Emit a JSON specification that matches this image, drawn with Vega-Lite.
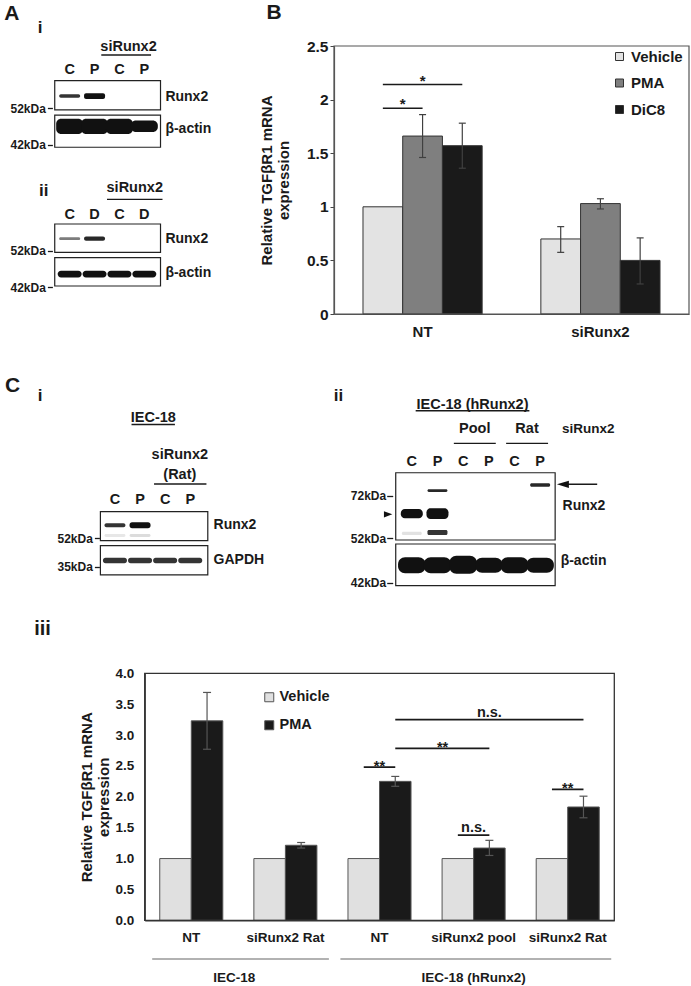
{
"$schema": "https://vega.github.io/schema/vega-lite/v6.json",
"width": 691,
"height": 986,
"autosize": "none",
"padding": 0,
"background": "white",
"config": {
 "view": {"stroke": null},
 "font": "Liberation Sans",
 "axis": {"grid": false, "labelFont": "Liberation Sans", "labelFontWeight": "bold", "labelColor": "#1a1a1a", "titleFont": "Liberation Sans", "titleFontWeight": "bold", "titleColor": "#1a1a1a", "domainColor": "#444444", "tickColor": "#444444"},
 "legend": {"labelFont": "Liberation Sans", "labelFontWeight": "bold", "labelColor": "#1a1a1a"},
 "text": {"font": "Liberation Sans", "fontWeight": "bold", "color": "#1a1a1a"}
},
"resolve": {"scale": {"x": "independent", "y": "independent", "xOffset": "independent", "color": "independent", "opacity": "independent"}, "axis": {"x": "independent", "y": "independent"}, "legend": {"color": "independent"}},
"layer": [
 {
  "layer": [
   {"data": {"values": [{"strip": "Runx2", "lane": 0.4, "lane2": 4.65, "kda": 61.1, "kda2": 51.5}, {"strip": "β-actin", "lane": 0.4, "lane2": 4.65, "kda": 50.0, "kda2": 41.45}]},
    "mark": {"type": "rect", "fill": "white", "stroke": "#222222", "strokeWidth": 1.2},
    "encoding": {
     "x": {"field": "lane", "type": "quantitative", "scale": {"domain": [-2, 7], "range": [-10, 224], "nice": false, "zero": false}, "axis": null},
     "x2": {"field": "lane2"},
     "y": {"field": "kda", "type": "quantitative", "scale": {"type": "log", "domain": [40, 100], "range": [153.37, -4.05], "nice": false}, "axis": {"orient": "left", "offset": -52.4, "values": [52, 42], "labelExpr": "datum.value + 'kDa'", "domain": false, "tickSize": 5, "tickWidth": 1.3, "tickColor": "#1a1a1a", "labelPadding": 2, "labelFontSize": 12, "title": null}},
     "y2": {"field": "kda2"}}},
   {"data": {"values": [{"lane": 1, "kda": 56.4, "kda2": 55.3, "signal": 0.85}, {"lane": 2, "kda": 56.74, "kda2": 54.9, "signal": 1}]},
    "mark": {"type": "bar", "width": 21, "color": "#111111", "cornerRadius": 2},
    "encoding": {"x": {"field": "lane", "type": "quantitative", "axis": null}, "y": {"field": "kda", "type": "quantitative"}, "y2": {"field": "kda2"}, "opacity": {"field": "signal", "type": "quantitative", "scale": {"domain": [0, 1], "range": [0, 1]}, "legend": null}}},
   {"data": {"values": [{"lane": 1, "kda": 48.9, "kda2": 44.8, "signal": 1}, {"lane": 2, "kda": 48.9, "kda2": 44.8, "signal": 1}, {"lane": 3, "kda": 48.9, "kda2": 44.8, "signal": 1}, {"lane": 4, "kda": 48.43, "kda2": 45.3, "signal": 1}]},
    "mark": {"type": "bar", "width": 27, "color": "#111111", "cornerRadius": 5},
    "encoding": {"x": {"field": "lane", "type": "quantitative", "axis": null}, "y": {"field": "kda", "type": "quantitative"}, "y2": {"field": "kda2"}, "opacity": {"field": "signal", "type": "quantitative", "legend": null}}},
   {"data": {"values": [{"lane": 1, "lab": "C"}, {"lane": 2, "lab": "P"}, {"lane": 3, "lab": "C"}, {"lane": 4, "lab": "P"}]},
    "mark": {"type": "text", "fontSize": 14.5, "baseline": "middle"},
    "encoding": {"x": {"field": "lane", "type": "quantitative", "axis": null}, "y": {"datum": 64.8, "type": "quantitative"}, "text": {"field": "lab"}}},
   {"data": {"values": [{"lane": 3.365, "lab": "siRunx2"}]},
    "mark": {"type": "text", "fontSize": 14.5, "baseline": "middle"},
    "encoding": {"x": {"field": "lane", "type": "quantitative", "axis": null}, "y": {"datum": 74.3, "type": "quantitative"}, "text": {"field": "lab"}}},
   {"data": {"values": [{"lane": 2.27, "lane2": 4.27}]},
    "mark": {"type": "rule", "color": "#1a1a1a", "strokeWidth": 1.4},
    "encoding": {"x": {"field": "lane", "type": "quantitative", "axis": null}, "x2": {"field": "lane2"}, "y": {"datum": 70.9, "type": "quantitative"}}},
   {"data": {"values": [{"lab": "Runx2", "kda": 55.6}, {"lab": "β-actin", "kda": 46.1}]},
    "mark": {"type": "text", "fontSize": 14, "align": "left", "baseline": "middle"},
    "encoding": {"x": {"datum": 4.846, "type": "quantitative", "axis": null}, "y": {"field": "kda", "type": "quantitative"}, "text": {"field": "lab"}}},
   {"data": {"values": [{"lab": "A"}]},
    "mark": {"type": "text", "fontSize": 21, "baseline": "middle"},
    "encoding": {"x": {"datum": -1.327, "type": "quantitative", "axis": null}, "y": {"datum": 90.2, "type": "quantitative"}, "text": {"field": "lab"}}},
   {"data": {"values": [{"lab": "i"}]},
    "mark": {"type": "text", "fontSize": 17, "baseline": "middle"},
    "encoding": {"x": {"datum": -0.19, "type": "quantitative", "axis": null}, "y": {"datum": 83.2, "type": "quantitative"}, "text": {"field": "lab"}}}
  ]
 },
 {
  "layer": [
   {"data": {"values": [{"strip": "Runx2", "lane": 0.4, "lane2": 4.65, "kda": 60.75, "kda2": 51.52}, {"strip": "β-actin", "lane": 0.4, "lane2": 4.65, "kda": 49.92, "kda2": 42.34}]},
    "mark": {"type": "rect", "fill": "white", "stroke": "#222222", "strokeWidth": 1.2},
    "encoding": {
     "x": {"field": "lane", "type": "quantitative", "scale": {"domain": [-2, 7], "range": [-10, 224], "nice": false, "zero": false}, "axis": null},
     "x2": {"field": "lane2"},
     "y": {"field": "kda", "type": "quantitative", "scale": {"type": "log", "domain": [40, 100], "range": [295.77, 138.35], "nice": false}, "axis": {"orient": "left", "offset": -52.4, "values": [52, 42], "labelExpr": "datum.value + 'kDa'", "domain": false, "tickSize": 5, "tickWidth": 1.3, "tickColor": "#1a1a1a", "labelPadding": 2, "labelFontSize": 12, "title": null}},
     "y2": {"field": "kda2"}}},
   {"data": {"values": [{"lane": 1, "kda": 56.2, "kda2": 55.3, "signal": 0.55}, {"lane": 2, "kda": 56.5, "kda2": 55.1, "signal": 0.9}]},
    "mark": {"type": "bar", "width": 21, "color": "#111111", "cornerRadius": 2},
    "encoding": {"x": {"field": "lane", "type": "quantitative", "axis": null}, "y": {"field": "kda", "type": "quantitative"}, "y2": {"field": "kda2"}, "opacity": {"field": "signal", "type": "quantitative", "scale": {"domain": [0, 1], "range": [0, 1]}, "legend": null}}},
   {"data": {"values": [{"lane": 1, "kda": 46.3, "kda2": 44.5, "signal": 1}, {"lane": 2, "kda": 46.3, "kda2": 44.5, "signal": 1}, {"lane": 3, "kda": 46.3, "kda2": 44.5, "signal": 1}, {"lane": 4, "kda": 46.3, "kda2": 44.5, "signal": 1}]},
    "mark": {"type": "bar", "width": 24, "color": "#111111", "cornerRadius": 3.5},
    "encoding": {"x": {"field": "lane", "type": "quantitative", "axis": null}, "y": {"field": "kda", "type": "quantitative"}, "y2": {"field": "kda2"}, "opacity": {"field": "signal", "type": "quantitative", "legend": null}}},
   {"data": {"values": [{"lane": 1, "lab": "C"}, {"lane": 2, "lab": "D"}, {"lane": 3, "lab": "C"}, {"lane": 4, "lab": "D"}]},
    "mark": {"type": "text", "fontSize": 14.5, "baseline": "middle"},
    "encoding": {"x": {"field": "lane", "type": "quantitative", "axis": null}, "y": {"datum": 64.0, "type": "quantitative"}, "text": {"field": "lab"}}},
   {"data": {"values": [{"lane": 3.615, "lab": "siRunx2"}]},
    "mark": {"type": "text", "fontSize": 14.5, "baseline": "middle"},
    "encoding": {"x": {"field": "lane", "type": "quantitative", "axis": null}, "y": {"datum": 74.9, "type": "quantitative"}, "text": {"field": "lab"}}},
   {"data": {"values": [{"lane": 2.5, "lane2": 4.73}]},
    "mark": {"type": "rule", "color": "#1a1a1a", "strokeWidth": 1.4},
    "encoding": {"x": {"field": "lane", "type": "quantitative", "axis": null}, "x2": {"field": "lane2"}, "y": {"datum": 70.1, "type": "quantitative"}}},
   {"data": {"values": [{"lab": "Runx2", "kda": 55.6}, {"lab": "β-actin", "kda": 45.6}]},
    "mark": {"type": "text", "fontSize": 14, "align": "left", "baseline": "middle"},
    "encoding": {"x": {"datum": 4.846, "type": "quantitative", "axis": null}, "y": {"field": "kda", "type": "quantitative"}, "text": {"field": "lab"}}},
   {"data": {"values": [{"lab": "ii"}]},
    "mark": {"type": "text", "fontSize": 17, "baseline": "middle"},
    "encoding": {"x": {"datum": -0.04, "type": "quantitative", "axis": null}, "y": {"datum": 73.8, "type": "quantitative"}, "text": {"field": "lab"}}}
  ]
 },
 {
  "layer": [
   {"data": {"values": [{"strip": "Runx2", "lane": 0.42, "lane2": 4.7, "kda": 75.4, "kda2": 50.3}, {"strip": "GAPDH", "lane": 0.42, "lane2": 4.7, "kda": 46.9, "kda2": 31.2}]},
    "mark": {"type": "rect", "fill": "white", "stroke": "#222222", "strokeWidth": 1.2},
    "encoding": {
     "x": {"field": "lane", "type": "quantitative", "scale": {"domain": [-4, 7], "range": [-15.5, 270.5], "nice": false, "zero": false}, "axis": null},
     "x2": {"field": "lane2"},
     "y": {"field": "kda", "type": "quantitative", "scale": {"type": "log", "domain": [25, 500], "range": [590.81, 376.02], "nice": false}, "axis": {"orient": "left", "offset": -99.4, "values": [52, 35], "labelExpr": "datum.value + 'kDa'", "domain": false, "tickSize": 5, "tickWidth": 1.3, "tickColor": "#1a1a1a", "labelPadding": 2, "labelFontSize": 12, "title": null}},
     "y2": {"field": "kda2"}}},
   {"data": {"values": [{"lane": 1, "kda": 64.1, "kda2": 60.6, "signal": 0.85}, {"lane": 2, "kda": 65.0, "kda2": 59.8, "signal": 1}, {"lane": 1, "kda": 55.2, "kda2": 52.95, "signal": 0.1}, {"lane": 2, "kda": 55.2, "kda2": 52.95, "signal": 0.15}]},
    "mark": {"type": "bar", "width": 21, "color": "#111111", "cornerRadius": 2.5},
    "encoding": {"x": {"field": "lane", "type": "quantitative", "axis": null}, "y": {"field": "kda", "type": "quantitative"}, "y2": {"field": "kda2"}, "opacity": {"field": "signal", "type": "quantitative", "scale": {"domain": [0, 1], "range": [0, 1]}, "legend": null}}},
   {"data": {"values": [{"lane": 1, "kda": 39.7, "kda2": 36.7, "signal": 0.85}, {"lane": 2, "kda": 39.7, "kda2": 36.7, "signal": 0.85}, {"lane": 3, "kda": 39.7, "kda2": 36.7, "signal": 0.85}, {"lane": 4, "kda": 39.7, "kda2": 36.7, "signal": 0.85}]},
    "mark": {"type": "bar", "width": 24, "color": "#111111", "cornerRadius": 2.5},
    "encoding": {"x": {"field": "lane", "type": "quantitative", "axis": null}, "y": {"field": "kda", "type": "quantitative"}, "y2": {"field": "kda2"}, "opacity": {"field": "signal", "type": "quantitative", "legend": null}}},
   {"data": {"values": [{"lane": 1, "lab": "C"}, {"lane": 2, "lab": "P"}, {"lane": 3, "lab": "C"}, {"lane": 4, "lab": "P"}]},
    "mark": {"type": "text", "fontSize": 14.5, "baseline": "middle"},
    "encoding": {"x": {"field": "lane", "type": "quantitative", "axis": null}, "y": {"datum": 88.7, "type": "quantitative"}, "text": {"field": "lab"}}},
   {"data": {"values": [{"lane": 3.585, "kda": 166.2, "lab": "siRunx2"}, {"lane": 3.585, "kda": 125.7, "lab": "(Rat)"}, {"lane": 2.527, "kda": 277.2, "lab": "IEC-18"}]},
    "mark": {"type": "text", "fontSize": 14.5, "baseline": "middle"},
    "encoding": {"x": {"field": "lane", "type": "quantitative", "axis": null}, "y": {"field": "kda", "type": "quantitative"}, "text": {"field": "lab"}}},
   {"data": {"values": [{"lane": 2.558, "lane2": 4.646, "kda": 110.9}, {"lane": 1.66, "lane2": 3.39, "kda": 254.3}]},
    "mark": {"type": "rule", "color": "#1a1a1a", "strokeWidth": 1.4},
    "encoding": {"x": {"field": "lane", "type": "quantitative", "axis": null}, "x2": {"field": "lane2"}, "y": {"field": "kda", "type": "quantitative"}}},
   {"data": {"values": [{"lab": "Runx2", "kda": 62.6}, {"lab": "GAPDH", "kda": 38.4}]},
    "mark": {"type": "text", "fontSize": 14, "align": "left", "baseline": "middle"},
    "encoding": {"x": {"datum": 4.93, "type": "quantitative", "axis": null}, "y": {"field": "kda", "type": "quantitative"}, "text": {"field": "lab"}}},
   {"data": {"values": [{"lab": "C"}]},
    "mark": {"type": "text", "fontSize": 21, "baseline": "middle"},
    "encoding": {"x": {"datum": -3.077, "type": "quantitative", "axis": null}, "y": {"datum": 435, "type": "quantitative"}, "text": {"field": "lab"}}},
   {"data": {"values": [{"lab": "i"}]},
    "mark": {"type": "text", "fontSize": 17, "baseline": "middle"},
    "encoding": {"x": {"datum": -1.98, "type": "quantitative", "axis": null}, "y": {"datum": 378.4, "type": "quantitative"}, "text": {"field": "lab"}}}
  ]
 },
 {
  "layer": [
   {"data": {"values": [{"strip": "Runx2", "lane": 0.374, "lane2": 6.585, "kda": 85.8, "kda2": 51.33}]},
    "mark": {"type": "rect", "fill": "white", "stroke": "#222222", "strokeWidth": 1.2},
    "encoding": {
     "x": {"field": "lane", "type": "quantitative", "scale": {"domain": [-2, 10], "range": [329.8, 647.8], "nice": false, "zero": false}, "axis": null},
     "x2": {"field": "lane2"},
     "y": {"field": "kda", "type": "quantitative", "scale": {"type": "log", "domain": [45, 200], "range": [557.22, 361.97], "nice": false}, "axis": {"orient": "left", "offset": -392.7, "values": [72, 52], "labelExpr": "datum.value + 'kDa'", "domain": false, "tickSize": 6, "tickWidth": 1.3, "tickColor": "#1a1a1a", "labelPadding": 1, "labelFontSize": 12, "title": null}},
     "y2": {"field": "kda2"}}},
   {"data": {"values": [{"lane": 1, "kda": 65.05, "kda2": 60.6, "signal": 1}, {"lane": 2, "kda": 65.4, "kda2": 60.3, "signal": 1}]},
    "mark": {"type": "bar", "width": 22, "color": "#111111", "cornerRadius": 4},
    "encoding": {"x": {"field": "lane", "type": "quantitative", "axis": null}, "y": {"field": "kda", "type": "quantitative"}, "y2": {"field": "kda2"}, "opacity": {"field": "signal", "type": "quantitative", "scale": {"domain": [0, 1], "range": [0, 1]}, "legend": null}}},
   {"data": {"values": [{"lane": 1, "kda": 54.7, "kda2": 53.3, "signal": 0.12}, {"lane": 2, "kda": 55.4, "kda2": 53.3, "signal": 0.85}, {"lane": 2, "kda": 75.6, "kda2": 74.1, "signal": 0.9}, {"lane": 6, "kda": 79.2, "kda2": 77.1, "signal": 0.9}]},
    "mark": {"type": "bar", "width": 20, "color": "#111111", "cornerRadius": 1.5},
    "encoding": {"x": {"field": "lane", "type": "quantitative", "axis": null}, "y": {"field": "kda", "type": "quantitative"}, "y2": {"field": "kda2"}, "opacity": {"field": "signal", "type": "quantitative", "legend": null}}},
   {"data": {"values": [{"lane": 1, "lab": "C"}, {"lane": 2, "lab": "P"}, {"lane": 3, "lab": "C"}, {"lane": 4, "lab": "P"}, {"lane": 5, "lab": "C"}, {"lane": 6, "lab": "P"}]},
    "mark": {"type": "text", "fontSize": 14.5, "baseline": "middle"},
    "encoding": {"x": {"field": "lane", "type": "quantitative", "axis": null}, "y": {"datum": 93.4, "type": "quantitative"}, "text": {"field": "lab"}}},
   {"data": {"values": [{"lane": 3.366, "kda": 144.0, "lab": "IEC-18 (hRunx2)"}, {"lane": 3.453, "kda": 119.8, "lab": "Pool"}, {"lane": 5.49, "kda": 119.8, "lab": "Rat"}]},
    "mark": {"type": "text", "fontSize": 14.5, "baseline": "middle"},
    "encoding": {"x": {"field": "lane", "type": "quantitative", "axis": null}, "y": {"field": "kda", "type": "quantitative"}, "text": {"field": "lab"}}},
   {"data": {"values": [{"lane": 6.849, "kda": 119.8, "lab": "siRunx2"}]},
    "mark": {"type": "text", "fontSize": 13.5, "align": "left", "baseline": "middle"},
    "encoding": {"x": {"field": "lane", "type": "quantitative", "axis": null}, "y": {"field": "kda", "type": "quantitative"}, "text": {"field": "lab"}}},
   {"data": {"values": [{"lane": 1.151, "lane2": 5.581, "kda": 137.8}, {"lane": 2.638, "lane2": 4.272, "kda": 107.4}, {"lane": 4.675, "lane2": 6.309, "kda": 107.4}]},
    "mark": {"type": "rule", "color": "#1a1a1a", "strokeWidth": 1.4},
    "encoding": {"x": {"field": "lane", "type": "quantitative", "axis": null}, "x2": {"field": "lane2"}, "y": {"field": "kda", "type": "quantitative"}}},
   {"data": {"values": [{"lab": "Runx2", "kda": 66.7}]},
    "mark": {"type": "text", "fontSize": 14, "align": "left", "baseline": "middle"},
    "encoding": {"x": {"datum": 6.875, "type": "quantitative", "axis": null}, "y": {"field": "kda", "type": "quantitative"}, "text": {"field": "lab"}}},
   {"data": {"values": [{"lane": 6.875, "lane2": 8.223}]},
    "mark": {"type": "rule", "color": "#1a1a1a", "strokeWidth": 1.5},
    "encoding": {"x": {"field": "lane", "type": "quantitative", "axis": null}, "x2": {"field": "lane2"}, "y": {"datum": 78.55, "type": "quantitative"}}},
   {"data": {"values": [{"lane": 6.887}]},
    "mark": {"type": "point", "shape": "M-1,0L1,-0.6L1,0.6Z", "size": 144, "filled": true, "color": "#111111", "opacity": 1},
    "encoding": {"x": {"field": "lane", "type": "quantitative", "axis": null}, "y": {"datum": 78.55, "type": "quantitative"}}},
   {"data": {"values": [{"lane": 0.077}]},
    "mark": {"type": "point", "shape": "M1,0L-1,-0.75L-1,0.75Z", "size": 70, "filled": true, "color": "#111111", "opacity": 1},
    "encoding": {"x": {"field": "lane", "type": "quantitative", "axis": null}, "y": {"datum": 62.46, "type": "quantitative"}}},
   {"data": {"values": [{"lab": "ii"}]},
    "mark": {"type": "text", "fontSize": 17, "baseline": "middle"},
    "encoding": {"x": {"datum": -1.86, "type": "quantitative", "axis": null}, "y": {"datum": 154.8, "type": "quantitative"}, "text": {"field": "lab"}}}
  ]
 },
 {
  "layer": [
   {"data": {"values": [{"strip": "β-actin", "lane": 0.374, "lane2": 6.585, "kda": 56.45, "kda2": 41.05}]},
    "mark": {"type": "rect", "fill": "white", "stroke": "#222222", "strokeWidth": 1.2},
    "encoding": {
     "x": {"field": "lane", "type": "quantitative", "scale": {"domain": [-2, 10], "range": [329.8, 647.8], "nice": false, "zero": false}, "axis": null},
     "x2": {"field": "lane2"},
     "y": {"field": "kda", "type": "quantitative", "scale": {"type": "log", "domain": [38, 62], "range": [595.8, 531.72], "nice": false}, "axis": {"orient": "left", "offset": -392.7, "values": [42], "labelExpr": "datum.value + 'kDa'", "domain": false, "tickSize": 6, "tickWidth": 1.3, "tickColor": "#1a1a1a", "labelPadding": 1, "labelFontSize": 12, "title": null}},
     "y2": {"field": "kda2"}}},
   {"data": {"values": [{"lane": 1, "kda": 51.0, "kda2": 45.13, "signal": 1}, {"lane": 2, "kda": 51.0, "kda2": 45.13, "signal": 1}, {"lane": 3, "kda": 51.6, "kda2": 45.0, "signal": 1}, {"lane": 4, "kda": 50.8, "kda2": 45.3, "signal": 1}, {"lane": 5, "kda": 51.0, "kda2": 45.13, "signal": 1}, {"lane": 6, "kda": 50.8, "kda2": 45.3, "signal": 1}]},
    "mark": {"type": "bar", "width": 27.5, "color": "#111111", "cornerRadius": 7},
    "encoding": {"x": {"field": "lane", "type": "quantitative", "axis": null}, "y": {"field": "kda", "type": "quantitative"}, "y2": {"field": "kda2"}, "opacity": {"field": "signal", "type": "quantitative", "scale": {"domain": [0, 1], "range": [0, 1]}, "legend": null}}},
   {"data": {"values": [{"lab": "β-actin", "kda": 49.7}]},
    "mark": {"type": "text", "fontSize": 14, "align": "left", "baseline": "middle"},
    "encoding": {"x": {"datum": 6.8, "type": "quantitative", "axis": null}, "y": {"field": "kda", "type": "quantitative"}, "text": {"field": "lab"}}}
  ]
 },
 {
  "layer": [
   {
    "data": {"values": [
     {"group": "NT", "treatment": "Vehicle", "mean": 1.0},
     {"group": "NT", "treatment": "PMA", "mean": 1.66, "lo": 1.46, "hi": 1.86},
     {"group": "NT", "treatment": "DiC8", "mean": 1.57, "lo": 1.36, "hi": 1.78},
     {"group": "siRunx2", "treatment": "Vehicle", "mean": 0.70, "lo": 0.575, "hi": 0.815},
     {"group": "siRunx2", "treatment": "PMA", "mean": 1.03, "lo": 0.98, "hi": 1.075},
     {"group": "siRunx2", "treatment": "DiC8", "mean": 0.50, "lo": 0.28, "hi": 0.71}
    ]},
    "encoding": {
     "x": {"field": "group", "type": "nominal"}
    },
    "layer": [
     {"mark": {"type": "bar", "stroke": "#333333", "strokeWidth": 1},
      "encoding": {
       "x": {"field": "group", "type": "nominal", "scale": {"domain": ["NT", "siRunx2"], "range": [334, 689], "paddingInner": 0.33, "paddingOuter": 0.163}, "axis": {"orient": "bottom", "offset": -672, "ticks": false, "labelPadding": 10, "labelFontSize": 15, "labelAngle": 0, "domainColor": "#555555", "domainWidth": 1.2, "title": null}},
       "xOffset": {"field": "treatment", "type": "nominal", "scale": {"domain": ["Vehicle", "PMA", "DiC8"], "paddingInner": 0, "paddingOuter": 0}},
       "y": {"field": "mean", "type": "quantitative", "scale": {"domain": [0, 2.5], "range": [314, 46], "nice": false}, "axis": {"orient": "left", "offset": -334, "values": [0, 0.5, 1, 1.5, 2, 2.5], "format": "~g", "tickSize": 4, "labelPadding": 2, "labelFontSize": 15.5, "domainColor": "#555555", "domainWidth": 1.2, "title": ["Relative TGFβR1 mRNA", "expression"], "titleFontSize": 15, "titlePadding": 15}},
       "color": {"field": "treatment", "type": "nominal", "scale": {"domain": ["Vehicle", "PMA", "DiC8"], "range": ["#e3e3e3", "#7f7f7f", "#1a1a1a"]}, "legend": {"orient": "none", "legendX": 612, "legendY": 49, "title": null, "symbolType": "square", "symbolSize": 64, "symbolStrokeColor": "#333333", "symbolStrokeWidth": 1, "labelFontSize": 15, "rowPadding": 10.5, "labelOffset": 4}}
      }},
     {"transform": [{"filter": "isValid(datum.lo)"}],
      "mark": {"type": "rule", "color": "#404040", "strokeWidth": 1.2},
      "encoding": {"xOffset": {"field": "treatment", "type": "nominal"}, "y": {"field": "lo", "type": "quantitative"}, "y2": {"field": "hi"}}},
     {"transform": [{"filter": "isValid(datum.lo)"}],
      "mark": {"type": "tick", "orient": "horizontal", "size": 7, "thickness": 1.2, "color": "#404040", "opacity": 1},
      "encoding": {"xOffset": {"field": "treatment", "type": "nominal"}, "y": {"field": "lo", "type": "quantitative"}}},
     {"transform": [{"filter": "isValid(datum.hi)"}],
      "mark": {"type": "tick", "orient": "horizontal", "size": 7, "thickness": 1.2, "color": "#404040", "opacity": 1},
      "encoding": {"xOffset": {"field": "treatment", "type": "nominal"}, "y": {"field": "hi", "type": "quantitative"}}},
     {"data": {"values": [
       {"id": "a", "group": "NT", "treatment": "Vehicle", "level": 2.14},
       {"id": "a", "group": "NT", "treatment": "DiC8", "level": 2.14},
       {"id": "b", "group": "NT", "treatment": "Vehicle", "level": 1.92},
       {"id": "b", "group": "NT", "treatment": "PMA", "level": 1.92}
      ]},
      "mark": {"type": "line", "color": "#1a1a1a", "strokeWidth": 1.5},
      "encoding": {"xOffset": {"field": "treatment", "type": "nominal"}, "y": {"field": "level", "type": "quantitative"}, "detail": {"field": "id"}}},
     {"data": {"values": [{"group": "NT", "level": 2.14, "lab": "*"}]},
      "mark": {"type": "text", "fontSize": 15, "baseline": "alphabetic", "dy": 1},
      "encoding": {"x": {"field": "group", "type": "nominal", "bandPosition": 0.5}, "y": {"field": "level", "type": "quantitative"}, "text": {"field": "lab"}}},
     {"data": {"values": [{"group": "NT", "level": 1.92, "lab": "*"}]},
      "mark": {"type": "text", "fontSize": 15, "baseline": "alphabetic", "dy": 1},
      "encoding": {"x": {"field": "group", "type": "nominal", "bandPosition": 0.3333}, "y": {"field": "level", "type": "quantitative"}, "text": {"field": "lab"}}}
    ]
   },
   {
    "data": {"values": [{"lab": "B"}]},
    "encoding": {
     "x": {"datum": 0, "type": "quantitative", "scale": {"domain": [0, 1], "range": [334, 689], "nice": false, "zero": false}, "axis": null}
    },
    "layer": [
     {"mark": {"type": "rect", "filled": false, "stroke": "#555555", "strokeWidth": 1.2},
      "encoding": {"x2": {"datum": 1}, "y": {"datum": 0, "type": "quantitative"}, "y2": {"datum": 2.5}}},
     {"mark": {"type": "text", "fontSize": 21, "baseline": "middle"},
      "encoding": {"x": {"datum": -0.169, "type": "quantitative", "axis": null}, "y": {"datum": 2.81, "type": "quantitative"}, "text": {"field": "lab"}}}
    ]
   }
  ],
  "resolve": {"scale": {"x": "independent"}}
 },
 {
  "layer": [
   {
    "data": {"values": [
     {"key": "IEC-18|NT", "treatment": "Vehicle", "mean": 1.0},
     {"key": "IEC-18|NT", "treatment": "PMA", "mean": 3.23, "lo": 2.77, "hi": 3.69},
     {"key": "IEC-18|siRunx2 Rat", "treatment": "Vehicle", "mean": 1.0},
     {"key": "IEC-18|siRunx2 Rat", "treatment": "PMA", "mean": 1.215, "lo": 1.17, "hi": 1.26},
     {"key": "IEC-18 (hRunx2)|NT", "treatment": "Vehicle", "mean": 1.0},
     {"key": "IEC-18 (hRunx2)|NT", "treatment": "PMA", "mean": 2.25, "lo": 2.17, "hi": 2.33},
     {"key": "IEC-18 (hRunx2)|siRunx2 pool", "treatment": "Vehicle", "mean": 1.0},
     {"key": "IEC-18 (hRunx2)|siRunx2 pool", "treatment": "PMA", "mean": 1.17, "lo": 1.05, "hi": 1.295},
     {"key": "IEC-18 (hRunx2)|siRunx2 Rat", "treatment": "Vehicle", "mean": 1.0},
     {"key": "IEC-18 (hRunx2)|siRunx2 Rat", "treatment": "PMA", "mean": 1.835, "lo": 1.66, "hi": 2.01}
    ]},
    "encoding": {
     "x": {"field": "key", "type": "nominal"}
    },
    "layer": [
     {"mark": {"type": "bar", "stroke": "#555555", "strokeWidth": 1},
      "encoding": {
       "x": {"field": "key", "type": "nominal", "scale": {"domain": ["IEC-18|NT", "IEC-18|siRunx2 Rat", "IEC-18 (hRunx2)|NT", "IEC-18 (hRunx2)|siRunx2 pool", "IEC-18 (hRunx2)|siRunx2 Rat"], "range": [144.7, 614.3], "paddingInner": 0.33, "paddingOuter": 0.16}, "axis": {"orient": "bottom", "offset": -65.7, "ticks": false, "labelPadding": 10, "labelFontSize": 13.5, "labelAngle": 0, "labelExpr": "split(datum.label, '|')[1]", "domainColor": "#333333", "domainWidth": 1.3, "title": null}},
       "xOffset": {"field": "treatment", "type": "nominal", "scale": {"domain": ["Vehicle", "PMA"], "paddingInner": 0, "paddingOuter": 0}},
       "y": {"field": "mean", "type": "quantitative", "scale": {"domain": [0, 4], "range": [920.3, 673.3], "nice": false}, "axis": {"orient": "left", "offset": -144.7, "values": [0, 0.5, 1, 1.5, 2, 2.5, 3, 3.5, 4], "format": ".1f", "ticks": false, "labelPadding": 11, "labelFontSize": 13.5, "domainColor": "#333333", "domainWidth": 1.3, "title": ["Relative TGFβR1 mRNA", "expression"], "titleFontSize": 15, "titlePadding": 3}},
       "color": {"field": "treatment", "type": "nominal", "scale": {"domain": ["Vehicle", "PMA"], "range": ["#e0e0e0", "#1a1a1a"]}, "legend": {"orient": "none", "legendX": 262, "legendY": 690, "title": null, "symbolType": "square", "symbolSize": 81, "symbolStrokeColor": "#555555", "symbolStrokeWidth": 1, "labelFontSize": 14.5, "rowPadding": 13, "labelOffset": 3}}
      }},
     {"transform": [{"filter": "isValid(datum.lo)"}],
      "mark": {"type": "rule", "color": "#555555", "strokeWidth": 1.2},
      "encoding": {"xOffset": {"field": "treatment", "type": "nominal"}, "y": {"field": "lo", "type": "quantitative"}, "y2": {"field": "hi"}}},
     {"transform": [{"filter": "isValid(datum.lo)"}],
      "mark": {"type": "tick", "orient": "horizontal", "size": 8, "thickness": 1.2, "color": "#555555", "opacity": 1},
      "encoding": {"xOffset": {"field": "treatment", "type": "nominal"}, "y": {"field": "lo", "type": "quantitative"}}},
     {"transform": [{"filter": "isValid(datum.hi)"}],
      "mark": {"type": "tick", "orient": "horizontal", "size": 8, "thickness": 1.2, "color": "#555555", "opacity": 1},
      "encoding": {"xOffset": {"field": "treatment", "type": "nominal"}, "y": {"field": "hi", "type": "quantitative"}}},
     {"data": {"values": [
       {"id": "a", "key": "IEC-18 (hRunx2)|NT", "treatment": "Vehicle", "level": 2.48},
       {"id": "a", "key": "IEC-18 (hRunx2)|NT", "treatment": "PMA", "level": 2.48},
       {"id": "b", "key": "IEC-18 (hRunx2)|NT", "treatment": "PMA", "level": 2.785},
       {"id": "b", "key": "IEC-18 (hRunx2)|siRunx2 pool", "treatment": "PMA", "level": 2.785},
       {"id": "c", "key": "IEC-18 (hRunx2)|NT", "treatment": "PMA", "level": 3.25},
       {"id": "c", "key": "IEC-18 (hRunx2)|siRunx2 Rat", "treatment": "PMA", "level": 3.25},
       {"id": "d", "key": "IEC-18 (hRunx2)|siRunx2 pool", "treatment": "Vehicle", "level": 1.38},
       {"id": "d", "key": "IEC-18 (hRunx2)|siRunx2 pool", "treatment": "PMA", "level": 1.38},
       {"id": "e", "key": "IEC-18 (hRunx2)|siRunx2 Rat", "treatment": "Vehicle", "level": 2.12},
       {"id": "e", "key": "IEC-18 (hRunx2)|siRunx2 Rat", "treatment": "PMA", "level": 2.12}
      ]},
      "mark": {"type": "line", "color": "#1a1a1a", "strokeWidth": 1.6},
      "encoding": {"xOffset": {"field": "treatment", "type": "nominal"}, "y": {"field": "level", "type": "quantitative"}, "detail": {"field": "id"}}},
     {"data": {"values": [{"key": "IEC-18 (hRunx2)|NT", "level": 2.48, "lab": "**"}, {"key": "IEC-18 (hRunx2)|siRunx2 Rat", "level": 2.12, "lab": "**"}]},
      "mark": {"type": "text", "fontSize": 14.5, "baseline": "alphabetic", "dy": 4},
      "encoding": {"x": {"field": "key", "type": "nominal", "bandPosition": 0.5}, "y": {"field": "level", "type": "quantitative"}, "text": {"field": "lab"}}},
     {"data": {"values": [{"key": "IEC-18 (hRunx2)|NT", "level": 2.785, "lab": "**"}]},
      "mark": {"type": "text", "fontSize": 14.5, "baseline": "alphabetic", "dy": 4},
      "encoding": {"x": {"field": "key", "type": "nominal", "bandPosition": 1.5}, "y": {"field": "level", "type": "quantitative"}, "text": {"field": "lab"}}},
     {"data": {"values": [{"key": "IEC-18 (hRunx2)|siRunx2 pool", "level": 1.38, "lab": "n.s."}]},
      "mark": {"type": "text", "fontSize": 14.5, "baseline": "alphabetic", "dy": -3},
      "encoding": {"x": {"field": "key", "type": "nominal", "bandPosition": 0.5}, "y": {"field": "level", "type": "quantitative"}, "text": {"field": "lab"}}},
     {"data": {"values": [{"key": "IEC-18 (hRunx2)|siRunx2 pool", "level": 3.25, "lab": "n.s."}]},
      "mark": {"type": "text", "fontSize": 14.5, "baseline": "alphabetic", "dy": -3},
      "encoding": {"x": {"field": "key", "type": "nominal", "bandPosition": 0.75}, "y": {"field": "level", "type": "quantitative"}, "text": {"field": "lab"}}},
     {"data": {"values": [{"cells": "IEC-18", "first": "IEC-18|NT", "last": "IEC-18|siRunx2 Rat"}, {"cells": "IEC-18 (hRunx2)", "first": "IEC-18 (hRunx2)|NT", "last": "IEC-18 (hRunx2)|siRunx2 Rat"}]},
      "mark": {"type": "rule", "color": "#999999", "strokeWidth": 1.5},
      "encoding": {"x": {"field": "first", "type": "nominal", "bandPosition": -0.12}, "x2": {"field": "last", "bandPosition": 1.19}, "y": {"datum": -0.627, "type": "quantitative"}}},
     {"data": {"values": [{"key": "IEC-18|NT", "lab": "IEC-18"}]},
      "mark": {"type": "text", "fontSize": 13.5, "baseline": "middle"},
      "encoding": {"x": {"field": "key", "type": "nominal", "bandPosition": 1.18}, "y": {"datum": -0.93, "type": "quantitative"}, "text": {"field": "lab"}}},
     {"data": {"values": [{"key": "IEC-18 (hRunx2)|siRunx2 pool", "lab": "IEC-18 (hRunx2)"}]},
      "mark": {"type": "text", "fontSize": 13.5, "baseline": "middle"},
      "encoding": {"x": {"field": "key", "type": "nominal", "bandPosition": 0.5}, "y": {"datum": -0.93, "type": "quantitative"}, "text": {"field": "lab"}}}
    ]
   },
   {
    "data": {"values": [{"lab": "iii"}]},
    "encoding": {
     "x": {"datum": 0, "type": "quantitative", "scale": {"domain": [0, 1], "range": [144.7, 614.3], "nice": false, "zero": false}, "axis": null}
    },
    "layer": [
     {"mark": {"type": "rect", "filled": false, "stroke": "#333333", "strokeWidth": 1.3},
      "encoding": {"x2": {"datum": 1}, "y": {"datum": 0, "type": "quantitative"}, "y2": {"datum": 4}}},
     {"mark": {"type": "text", "fontSize": 20, "baseline": "middle"},
      "encoding": {"x": {"datum": -0.2176, "type": "quantitative", "axis": null}, "y": {"datum": 4.717, "type": "quantitative"}, "text": {"field": "lab"}}}
    ]
   }
  ],
  "resolve": {"scale": {"x": "independent"}}
 }
]
}
